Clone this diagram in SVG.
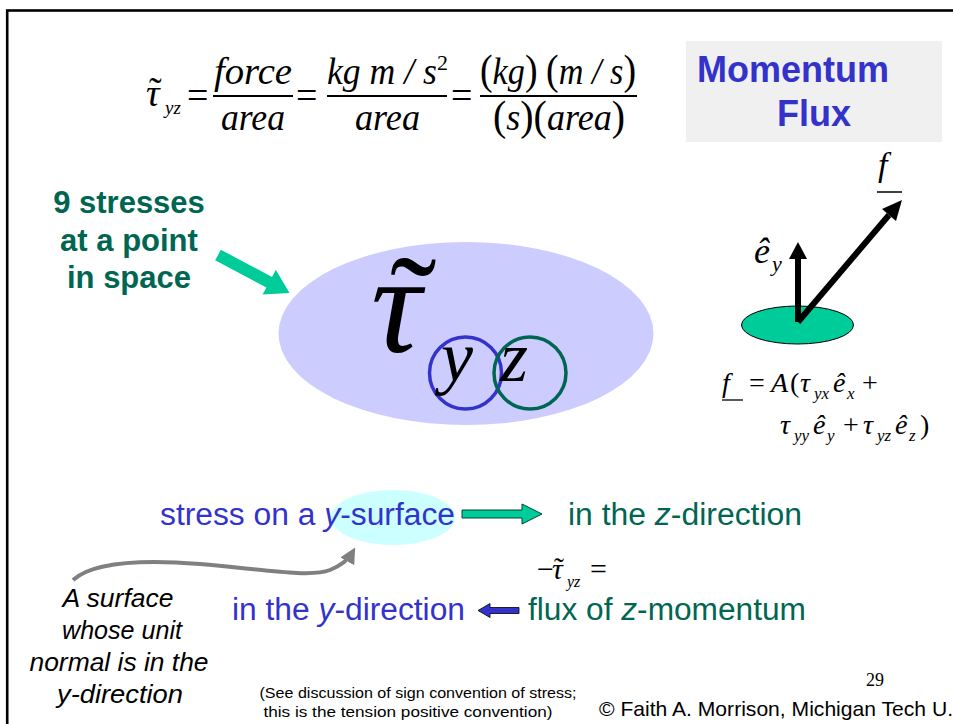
<svg xmlns="http://www.w3.org/2000/svg" width="953" height="724" viewBox="0 0 953 724">
<style>
.m{font-family:"Liberation Serif","Times New Roman",serif;font-style:italic;fill:#000}
.r{font-family:"Liberation Serif","Times New Roman",serif;font-style:normal;fill:#000}
.s{font-family:"Liberation Sans",Arial,sans-serif}
.blue{fill:#3333cc}
.grn{fill:#006652}
.it{font-style:italic}
.bar{stroke:#000;stroke-width:1.8}
</style>
<defs>
<marker id="ga" viewBox="0 0 10 10" refX="6" refY="5" markerWidth="4" markerHeight="4" orient="auto"><path d="M0,0 L10,5 L0,10 z" fill="#808080"/></marker>
</defs>
<rect x="7.2" y="10.5" width="1000" height="800" fill="#fff" stroke="#000" stroke-width="2.6"/>

<g id="equation-top">
<text class="m" x="146" y="106" font-size="38">τ</text>
<text class="r" x="149" y="104" font-size="38">˜</text>
<text class="m" x="165" y="114" font-size="19">yz</text>
<text class="r" x="187" y="108" font-size="38">=</text>
<text class="m" x="214" y="84" font-size="38" textLength="78" lengthAdjust="spacingAndGlyphs">force</text>
<line class="bar" x1="213" y1="96" x2="293" y2="96"/>
<text class="m" x="221" y="130" font-size="38" textLength="64" lengthAdjust="spacingAndGlyphs">area</text>
<text class="r" x="296" y="108" font-size="38">=</text>
<text class="m" x="327" y="84" font-size="38" textLength="110" lengthAdjust="spacingAndGlyphs">kg m / s</text>
<text class="r" x="437" y="70" font-size="22">2</text>
<line class="bar" x1="327" y1="96" x2="447" y2="96"/>
<text class="m" x="355" y="130" font-size="38" textLength="65" lengthAdjust="spacingAndGlyphs">area</text>
<text class="r" x="451" y="108" font-size="38">=</text>
<text class="m" x="480" y="84" font-size="38" textLength="156" lengthAdjust="spacingAndGlyphs"><tspan class="r" font-size="42">(</tspan>kg<tspan class="r" font-size="42">)</tspan> <tspan class="r" font-size="42">(</tspan>m / s<tspan class="r" font-size="42">)</tspan></text>
<line class="bar" x1="480" y1="96" x2="637" y2="96"/>
<text class="m" x="493" y="130" font-size="38" textLength="132" lengthAdjust="spacingAndGlyphs"><tspan class="r" font-size="42">(</tspan>s<tspan class="r" font-size="42">)(</tspan>area<tspan class="r" font-size="42">)</tspan></text>
</g>

<g id="momentum-flux">
<rect x="686" y="41" width="256" height="101" fill="#f0f0f0"/>
<text class="s blue" x="697" y="82" font-size="36" font-weight="bold">Momentum</text>
<text class="s blue" x="777" y="126" font-size="36" font-weight="bold">Flux</text>
</g>

<g id="nine-stresses" class="s grn" font-size="31" font-weight="bold" text-anchor="middle">
<text x="129" y="213">9 stresses</text>
<text x="129" y="251">at a point</text>
<text x="129" y="288">in space</text>
</g>

<g id="tau-ellipse">
<ellipse cx="466" cy="333.5" rx="187.5" ry="91.5" fill="#ccccff"/>
<text class="m" x="371" y="352" font-size="140">τ</text>
<text class="r" x="390" y="352" font-size="140">˜</text>
<circle cx="465.5" cy="373" r="36" fill="none" stroke="#3333cc" stroke-width="3.5"/>
<circle cx="530" cy="373" r="36" fill="none" stroke="#006652" stroke-width="3.5"/>
<text class="m" x="441" y="381" font-size="72">y</text>
<text class="m" x="500" y="381" font-size="72">z</text>
</g>

<g id="vector-diagram">
<ellipse cx="797.5" cy="325" rx="56" ry="19" fill="#00cc99" stroke="#000" stroke-width="1"/>
<text class="m" x="754" y="263" font-size="36">ê</text>
<text class="m" x="772" y="271" font-size="22">y</text>
<text class="m" x="878" y="176" font-size="34">f</text>
<line x1="877" y1="192" x2="902" y2="192" stroke="#000" stroke-width="1.5"/>
</g>

<g id="force-formula">
<text class="m" x="722" y="392" font-size="28">f</text>
<line x1="722" y1="400" x2="743" y2="400" stroke="#000" stroke-width="1.3"/>
<text class="r" x="749" y="392" font-size="28">=</text>
<text class="m" x="771" y="392" font-size="28">A</text>
<text class="r" x="790" y="392" font-size="28">(</text>
<text class="m" x="800" y="392" font-size="28">τ</text>
<text class="m" x="814" y="399" font-size="17">yx</text>
<text class="m" x="833" y="392" font-size="28">ê</text>
<text class="m" x="847" y="399" font-size="17">x</text>
<text class="r" x="862" y="392" font-size="28">+</text>
<text class="m" x="780" y="434" font-size="28">τ</text>
<text class="m" x="794" y="441" font-size="17">yy</text>
<text class="m" x="813" y="434" font-size="28">ê</text>
<text class="m" x="827" y="441" font-size="17">y</text>
<text class="r" x="843" y="434" font-size="28">+</text>
<text class="m" x="863" y="434" font-size="28">τ</text>
<text class="m" x="877" y="441" font-size="17">yz</text>
<text class="m" x="895" y="434" font-size="28">ê</text>
<text class="m" x="909" y="441" font-size="17">z</text>
<text class="r" x="920" y="434" font-size="28">)</text>
</g>

<g id="y-surface">
<ellipse cx="393" cy="517.5" rx="62" ry="27.5" fill="#ccffff"/>
<text class="s blue" x="160" y="525" font-size="31" textLength="295" lengthAdjust="spacingAndGlyphs">stress on a <tspan class="it">y</tspan>-surface</text>
</g>

<g id="z-direction">
<text class="s grn" x="568" y="525" font-size="31" textLength="234" lengthAdjust="spacingAndGlyphs">in the <tspan class="it">z</tspan>-direction</text>
</g>

<g id="neg-tau">
<text class="r" x="537" y="579" font-size="30">−</text>
<text class="m" x="552" y="579" font-size="30">τ</text>
<text class="r" x="554" y="578" font-size="30">˜</text>
<text class="m" x="567" y="587" font-size="16">yz</text>
<text class="r" x="590" y="579" font-size="30">=</text>
</g>

<g id="y-direction">
<text class="s blue" x="232" y="620" font-size="31" textLength="233" lengthAdjust="spacingAndGlyphs">in the <tspan class="it">y</tspan>-direction</text>
</g>

<g id="z-momentum">
<text class="s grn" x="528" y="620" font-size="31" textLength="278" lengthAdjust="spacingAndGlyphs">flux of <tspan class="it">z</tspan>-momentum</text>
</g>

<g id="surface-note" class="s it" font-size="25" text-anchor="middle" fill="#000">
<text x="118" y="607" textLength="111" lengthAdjust="spacingAndGlyphs">A surface</text>
<text x="122" y="639" textLength="120" lengthAdjust="spacingAndGlyphs">whose unit</text>
<text x="119" y="671" textLength="179" lengthAdjust="spacingAndGlyphs">normal is in the</text>
<text x="120" y="703" textLength="126" lengthAdjust="spacingAndGlyphs">y-direction</text>
</g>

<g id="sign-note" class="s" font-size="15" text-anchor="middle" fill="#000">
<text x="418" y="698" textLength="317" lengthAdjust="spacingAndGlyphs">(See discussion of sign convention of stress;</text>
<text x="408" y="717" textLength="289" lengthAdjust="spacingAndGlyphs">this is the tension positive convention)</text>
</g>

<g id="footer">
<text class="r" x="866" y="686" font-size="18">29</text>
<text class="s" x="599" y="716" font-size="21" textLength="354" lengthAdjust="spacingAndGlyphs" fill="#000">© Faith A. Morrison, Michigan Tech U.</text>
</g>

<g id="connectors">
<polygon points="0,-6 58,-6 58,-14 81,0 58,14 58,6 0,6" fill="#00cc99" transform="translate(218,255) rotate(28)"/>
<line x1="798" y1="322" x2="798" y2="257" stroke="#000" stroke-width="6"/>
<polygon points="789,259 807,259 798,242" fill="#000"/>
<line x1="798" y1="322" x2="889" y2="215" stroke="#000" stroke-width="6"/>
<polygon points="896,221 882,209 902,200" fill="#000"/>
<polygon points="462,510 522,510 522,504 542,514 522,524 522,518 462,518" fill="#00cc99" stroke="#004433" stroke-width="1"/>
<polygon points="478,610.5 490,603.5 490,607.5 519,607.5 519,613.5 490,613.5 490,617.5" fill="#3333cc" stroke="#000" stroke-width="0.8"/>
<path d="M73,580 C95,560 150,560 200,564 C260,569 310,578 330,570 C342,565 348,560 352,553" fill="none" stroke="#808080" stroke-width="4" marker-end="url(#ga)"/>
</g>
</svg>
